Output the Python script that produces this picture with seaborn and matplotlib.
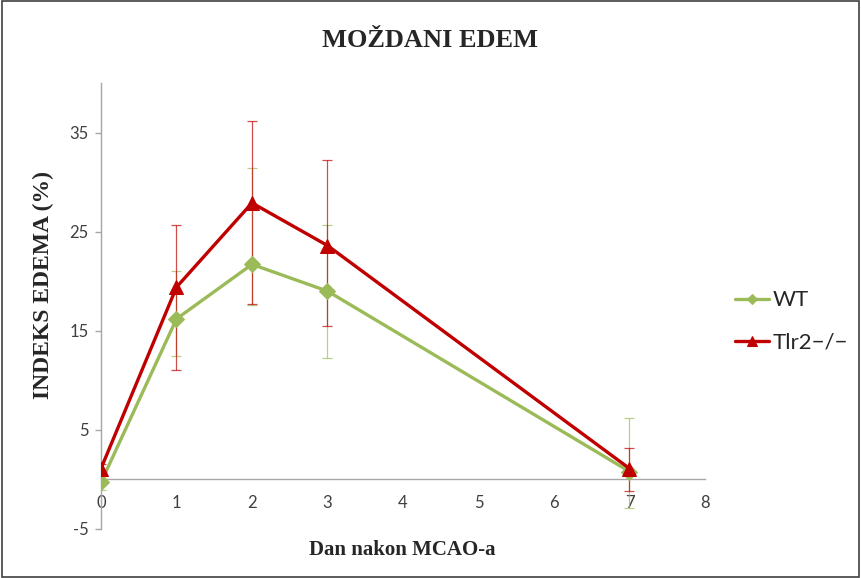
import matplotlib
matplotlib.use("Agg")
import matplotlib.pyplot as plt
import seaborn as sns
import numpy as np
import pandas as pd

# data
days = [0, 1, 2, 3, 7]
wt_mean = [-0.3, 16.2, 21.7, 19.0, 0.8]
wt_err_low = [0.8, 3.7, 4.1, 6.7, 3.7]
wt_err_high = [0.8, 4.8, 9.7, 6.7, 5.4]
tlr2_mean = [1.1, 19.4, 27.9, 23.6, 1.1]
tlr2_err_low = [0.5, 8.4, 10.2, 8.1, 2.3]
tlr2_err_high = [0.5, 6.3, 8.3, 8.6, 2.1]

df = pd.DataFrame({
    "dan": days * 2,
    "edem": wt_mean + tlr2_mean,
    "grupa": ["WT"] * 5 + ["Tlr2\u2212/\u2212"] * 5,
})

sns.set_style("white")
plt.rcParams["font.family"] = ["Lato", "DejaVu Sans"]
plt.rcParams["axes.unicode_minus"] = False

green = "#9BBB59"
red = "#C00000"

fig = plt.figure(figsize=(8.61, 5.78), dpi=100)
ax = fig.add_axes([0.1173, 0.0848, 0.7015, 0.7716])

# error bars first so lines sit above them
ax.errorbar(days, wt_mean, yerr=[wt_err_low, wt_err_high], fmt="none",
            ecolor=green, elinewidth=0.9, capsize=3.5, capthick=0.9, alpha=0.7, zorder=2)
ax.errorbar(days, tlr2_mean, yerr=[tlr2_err_low, tlr2_err_high], fmt="none",
            ecolor=red, elinewidth=0.9, capsize=3.5, capthick=0.9, alpha=0.7, zorder=2)

sns.lineplot(data=df[df.grupa == "WT"], x="dan", y="edem", ax=ax, color=green,
             marker="D", markersize=8, markeredgecolor=green, linewidth=2.4,
             label="WT", zorder=3)
sns.lineplot(data=df[df.grupa != "WT"], x="dan", y="edem", ax=ax, color=red,
             marker="^", markersize=10, markeredgecolor=red, linewidth=2.4,
             label="Tlr2\u2212/\u2212", zorder=4)

ax.set_xlim(0, 8)
ax.set_ylim(-5, 40)
ax.set_xticks(range(0, 9))
ax.set_yticks([-5, 5, 15, 25, 35])

for s in ["top", "right"]:
    ax.spines[s].set_visible(False)
ax.spines["bottom"].set_position(("data", 0))
ax.spines["left"].set_position(("data", 0))
for s in ["bottom", "left"]:
    ax.spines[s].set_color("#A6A6A6")
    ax.spines[s].set_linewidth(1.0)

ax.tick_params(axis="y", left=True, length=4, width=1, color="#A6A6A6",
               labelsize=12, labelcolor="#404040", pad=5)
ax.tick_params(axis="x", bottom=False, labelsize=12, labelcolor="#404040", pad=8)

serif = ["Liberation Serif", "DejaVu Serif"]
ax.set_xlabel("")
ax.set_ylabel("")
fig.text(0.467, 0.048, "Dan nakon MCAO-a", ha="center", va="center",
         fontsize=15, fontweight="bold", family=serif)
fig.text(0.051, 0.507, "INDEKS EDEMA (%)", ha="center", va="center", rotation=90,
         fontsize=17, fontweight="bold", family=serif)
fig.text(0.50, 0.930, "MOŽDANI EDEM", ha="center", va="center",
         fontsize=19, fontweight="bold", family=serif)

leg = ax.legend(loc="center left", bbox_to_anchor=(1.05, 0.465), frameon=False,
                fontsize=16, handlelength=1.5, labelspacing=1.0, handletextpad=0.2,
                borderaxespad=0, borderpad=0, markerscale=0.7)

# outer frame like the original chart area
fig.patches.append(plt.Rectangle((0.002, 0.002), 0.996, 0.996, transform=fig.transFigure,
                                 fill=False, edgecolor="#404040", linewidth=1.2))

fig.savefig("out.png", dpi=100)
